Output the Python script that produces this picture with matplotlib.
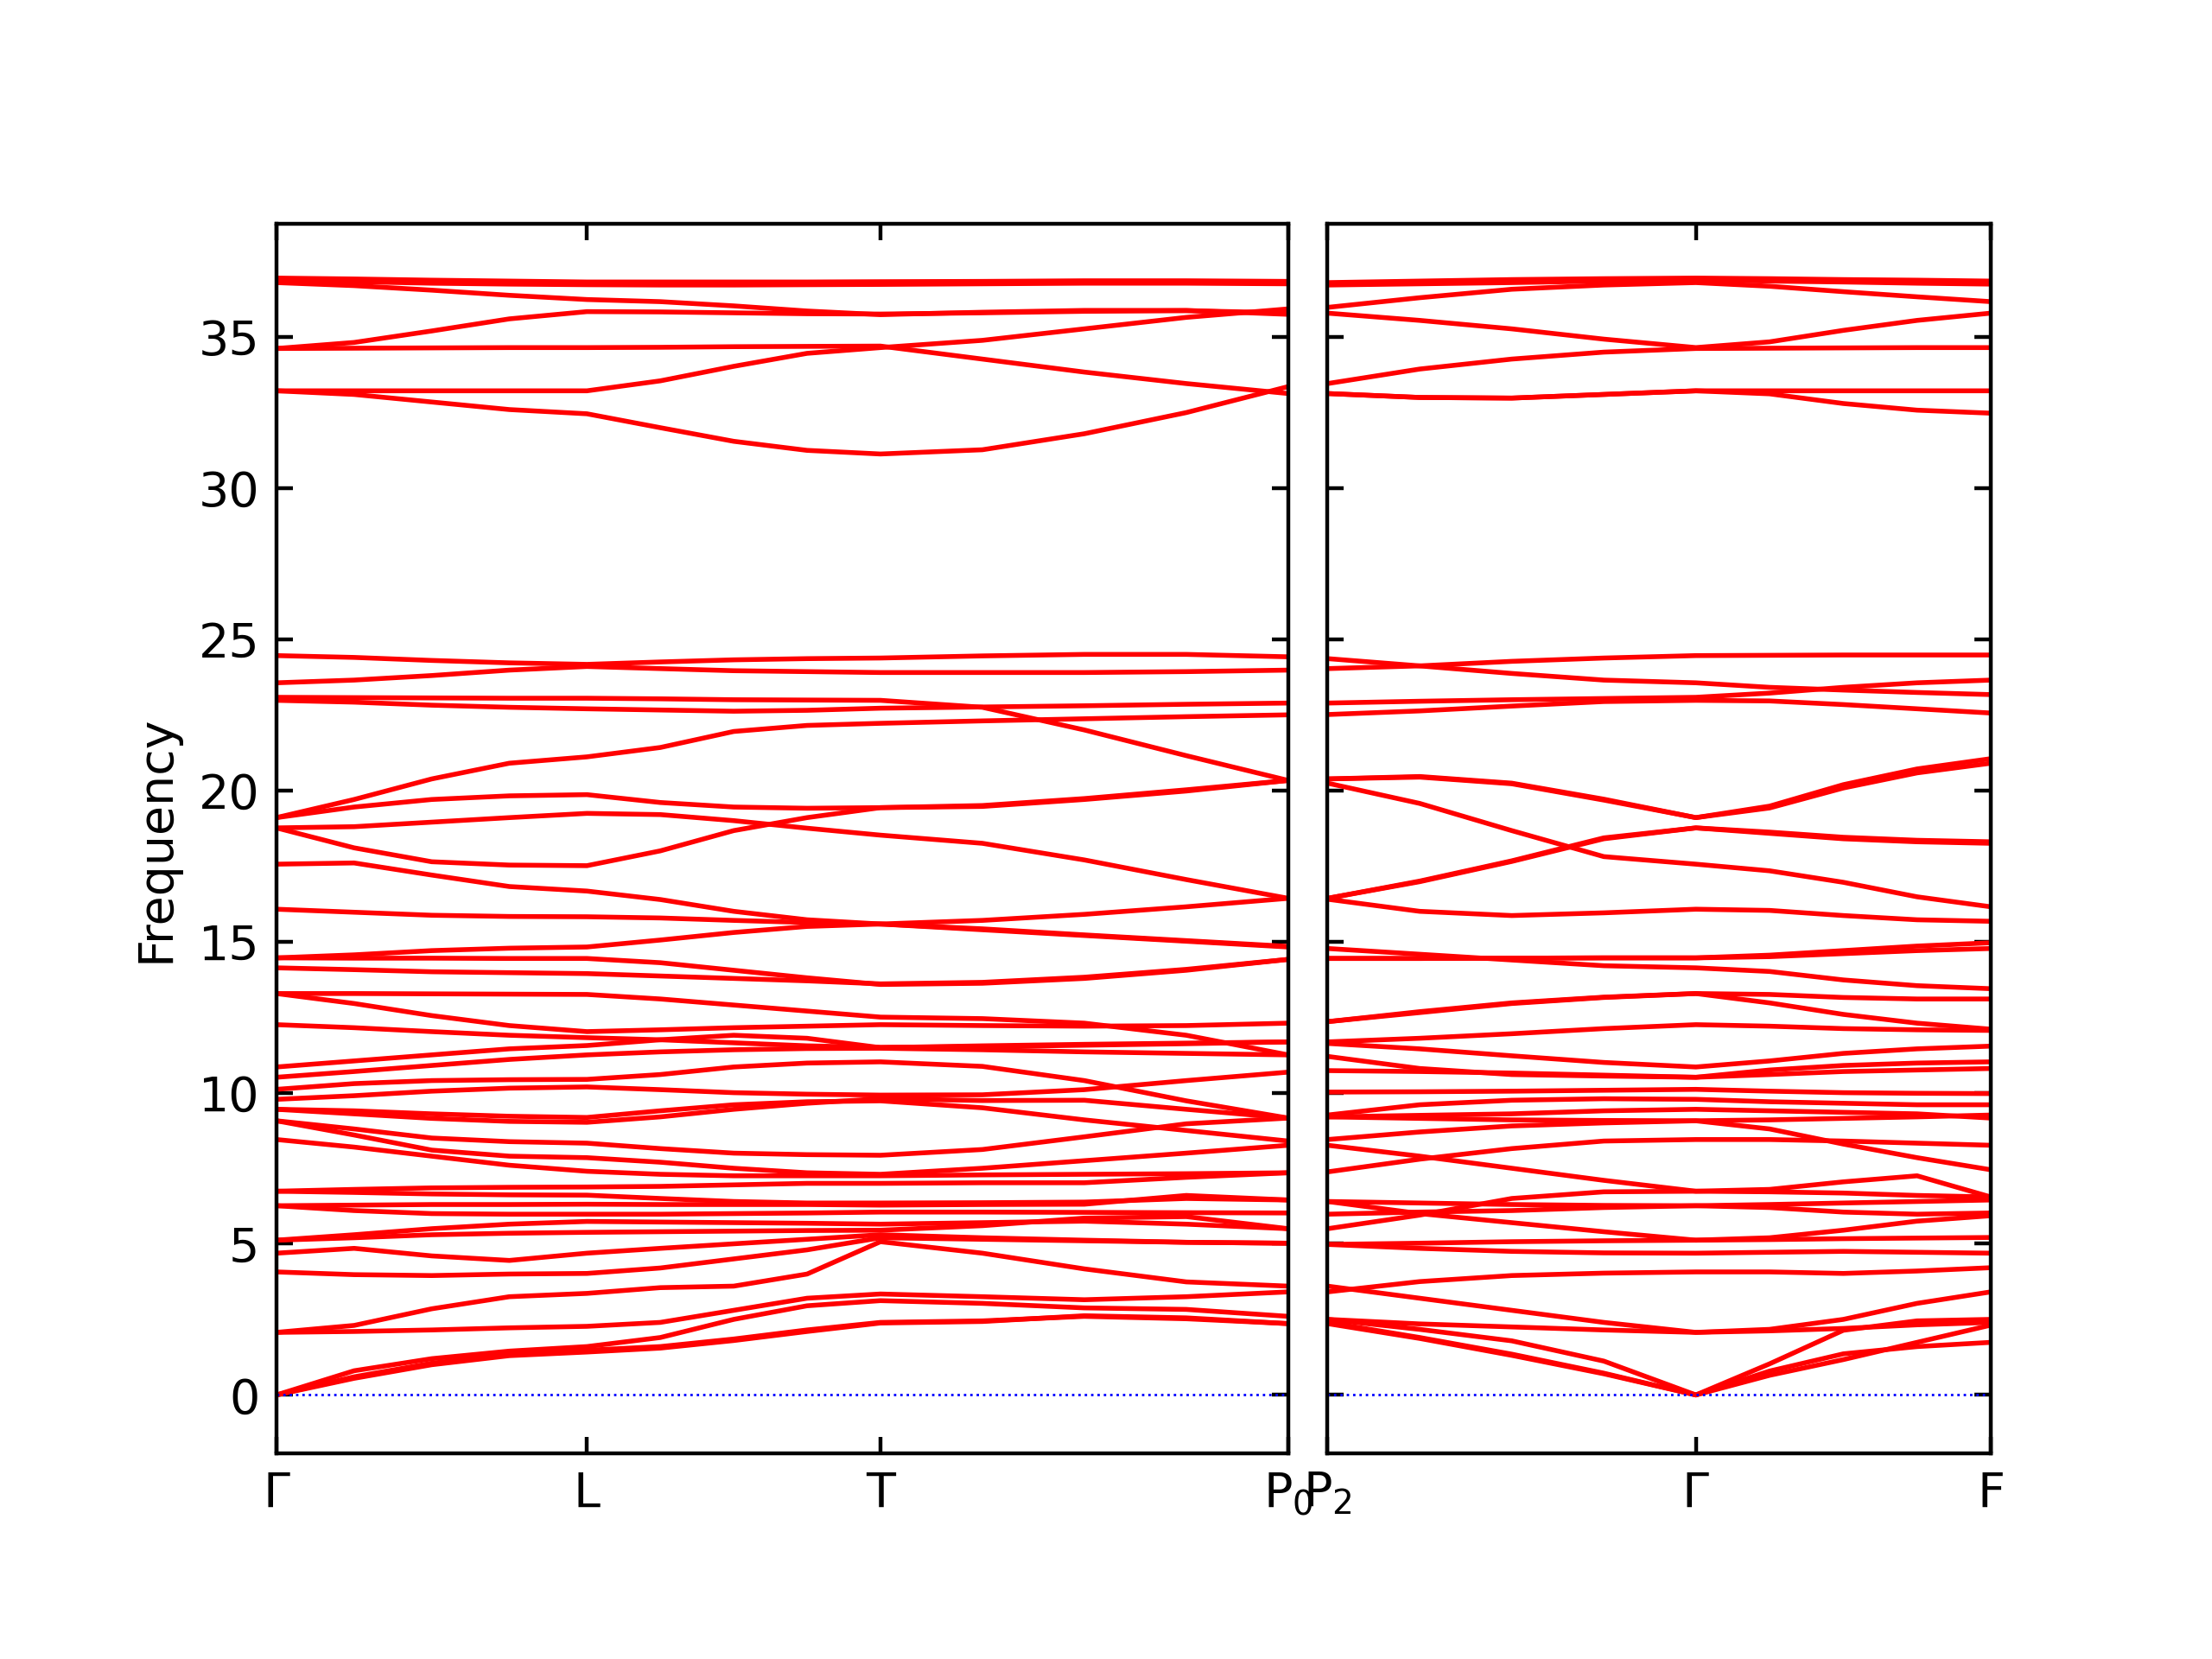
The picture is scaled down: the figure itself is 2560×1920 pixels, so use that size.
import numpy as np
import matplotlib
matplotlib.use('Agg')
import matplotlib.pyplot as plt

# band path: segment lengths (reciprocal space) and tick labels
left_labels = ['$\\Gamma$', 'L', 'T', '$\\mathrm{P_0}$']
left_seg = [0.220, 0.208, 0.289]
right_labels = ['$\\mathrm{P_2}$', '$\\Gamma$', 'F']
right_seg = [0.261, 0.209]

# every band is read at 0, 1/4, 1/2, 3/4 of each segment plus the last point
steps = [0.0, 0.25, 0.5, 0.75]

# ---- left panel: Gamma - L - T - P0 (13 values per band) ----
left_low = [
    [0, 0.55, 1.0, 1.3, 1.42, 1.55, 1.8, 2.1, 2.38, 2.43, 2.62, 2.55, 2.36],
    [0, 0.6, 1.05, 1.35, 1.48, 1.6, 1.85, 2.15, 2.4, 2.45, 2.6, 2.52, 2.36],
    [0, 0.8, 1.2, 1.45, 1.6, 1.9, 2.5, 2.95, 3.12, 3.03, 2.88, 2.83, 2.6],
    [2.07, 2.1, 2.15, 2.22, 2.27, 2.4, 2.8, 3.2, 3.34, 3.25, 3.15, 3.25, 3.41],
    [2.07, 2.3, 2.85, 3.25, 3.36, 3.55, 3.6, 4.0, 5.07, 4.69, 4.17, 3.74, 3.6],
    [4.07, 3.98, 3.95, 4.0, 4.02, 4.2, 4.5, 4.8, 5.2, 5.15, 5.1, 5.05, 5.02],
    [4.69, 4.85, 4.6, 4.45, 4.69, 4.85, 5.0, 5.15, 5.3, 5.2, 5.12, 5.05, 5.02],
    [5.12, 5.2, 5.3, 5.35, 5.38, 5.4, 5.42, 5.44, 5.45, 5.6, 5.85, 5.9, 5.5],
    [5.12, 5.3, 5.5, 5.65, 5.74, 5.72, 5.7, 5.68, 5.65, 5.7, 5.75, 5.65, 5.5],
    [6.26, 6.1, 6.0, 5.98, 5.98, 5.98, 6.0, 6.02, 6.05, 6.05, 6.04, 6.03, 6.02],
    [6.26, 6.28, 6.3, 6.3, 6.31, 6.3, 6.3, 6.3, 6.28, 6.3, 6.31, 6.6, 6.45],
    [6.74, 6.7, 6.65, 6.62, 6.61, 6.5, 6.4, 6.35, 6.35, 6.36, 6.38, 6.5, 6.45],
    [6.74, 6.8, 6.85, 6.87, 6.88, 6.9, 6.95, 7.0, 7.0, 7.02, 7.02, 7.2, 7.35],
    [8.45, 8.2, 7.9, 7.6, 7.4, 7.3, 7.25, 7.25, 7.25, 7.28, 7.3, 7.32, 7.35],
    [9.07, 8.6, 8.1, 7.9, 7.85, 7.7, 7.5, 7.35, 7.3, 7.5, 7.75, 8.0, 8.26],
    [9.07, 8.8, 8.5, 8.38, 8.33, 8.15, 8.0, 7.95, 7.93, 8.12, 8.54, 8.97, 9.16],
    [9.45, 9.3, 9.15, 9.05, 9.02, 9.2, 9.45, 9.65, 9.8, 9.74, 9.75, 9.45, 9.16],
    [9.45, 9.4, 9.3, 9.22, 9.18, 9.4, 9.6, 9.7, 9.73, 9.5, 9.1, 8.75, 8.4],
    [9.78, 9.9, 10.05, 10.15, 10.19, 10.1, 10.0, 9.95, 9.92, 9.93, 10.1, 10.4, 10.68],
    [10.11, 10.3, 10.4, 10.43, 10.44, 10.6, 10.85, 10.98, 11.02, 10.87, 10.4, 9.73, 9.16],
    [10.51, 10.7, 10.9, 11.1, 11.25, 11.35, 11.42, 11.46, 11.47, 11.42, 11.35, 11.3, 11.25],
    [10.85, 11.05, 11.25, 11.45, 11.56, 11.75, 11.9, 11.8, 11.49, 11.55, 11.6, 11.64, 11.68],
]
left_upper = [
    [19.1, 19.7, 20.38, 20.9, 21.11, 21.42, 21.95, 22.15, 22.22, 22.3, 22.37, 22.44, 22.5],
    [19.1, 19.45, 19.7, 19.82, 19.86, 19.6, 19.45, 19.41, 19.43, 19.47, 19.7, 19.98, 20.33],
    [18.76, 18.8, 18.95, 19.1, 19.24, 19.2, 19.0, 18.75, 18.52, 18.25, 17.7, 17.05, 16.43],
    [18.76, 18.1, 17.64, 17.53, 17.51, 18.0, 18.67, 19.1, 19.43, 19.5, 19.73, 20.02, 20.33],
    [17.56, 17.6, 17.2, 16.82, 16.67, 16.39, 16.0, 15.72, 15.58, 15.7, 15.9, 16.15, 16.43],
    [16.07, 15.97, 15.87, 15.83, 15.82, 15.78, 15.7, 15.63, 15.58, 15.39, 15.2, 15.01, 14.82],
    [14.46, 14.56, 14.7, 14.78, 14.82, 15.05, 15.3, 15.5, 15.58, 15.42, 15.22, 15.03, 14.84],
    [14.46, 14.45, 14.45, 14.44, 14.44, 14.3, 14.05, 13.8, 13.58, 13.62, 13.78, 14.05, 14.41],
    [14.13, 14.07, 14.0, 13.97, 13.94, 13.86, 13.78, 13.7, 13.6, 13.65, 13.82, 14.08, 14.41],
    [13.28, 13.28, 13.27, 13.26, 13.25, 13.1, 12.9, 12.7, 12.5, 12.45, 12.3, 11.9, 11.25],
    [13.28, 12.95, 12.55, 12.22, 12.02, 12.08, 12.15, 12.2, 12.25, 12.22, 12.2, 12.22, 12.3],
    [12.25, 12.15, 12.02, 11.9, 11.82, 11.75, 11.65, 11.55, 11.5, 11.52, 11.57, 11.62, 11.68],
]
left_mid = [
    [24.46, 24.4, 24.3, 24.22, 24.17, 24.25, 24.32, 24.36, 24.38, 24.45, 24.5, 24.5, 24.42],
    [23.56, 23.65, 23.8, 23.98, 24.1, 24.03, 23.96, 23.93, 23.9, 23.9, 23.9, 23.93, 23.98],
    [23.08, 23.07, 23.06, 23.05, 23.05, 23.03, 23.0, 22.99, 22.98, 22.75, 22.0, 21.15, 20.33],
    [22.98, 22.92, 22.82, 22.75, 22.7, 22.66, 22.62, 22.65, 22.72, 22.76, 22.8, 22.85, 22.89],
]
left_top = [
    [36.95, 36.92, 36.88, 36.85, 36.82, 36.82, 36.82, 36.82, 36.83, 36.84, 36.86, 36.86, 36.84],
    [36.88, 36.83, 36.78, 36.75, 36.73, 36.72, 36.72, 36.73, 36.74, 36.76, 36.78, 36.78, 36.76],
    [36.8, 36.7, 36.55, 36.38, 36.24, 36.17, 36.03, 35.86, 35.74, 35.82, 35.88, 35.88, 35.75],
    [34.62, 34.82, 35.2, 35.6, 35.84, 35.83, 35.8, 35.77, 35.76, 35.8, 35.85, 35.87, 35.8],
    [34.62, 34.63, 34.64, 34.65, 34.65, 34.66, 34.68, 34.69, 34.7, 34.27, 33.84, 33.46, 33.13],
    [33.22, 33.22, 33.22, 33.22, 33.22, 33.55, 34.03, 34.46, 34.65, 34.89, 35.27, 35.65, 35.93],
    [33.22, 33.1, 32.85, 32.6, 32.46, 32.0, 31.55, 31.25, 31.13, 31.27, 31.8, 32.5, 33.36],
]

# ---- right panel: P2 - Gamma - F (9 values per band) ----
right_low = [
    [2.36, 1.87, 1.31, 0.7, 0, 0.79, 1.36, 1.6, 1.74],
    [2.4, 1.9, 1.35, 0.72, 0, 0.65, 1.17, 1.74, 2.31],
    [2.5, 2.17, 1.79, 1.12, 0, 1.03, 2.14, 2.45, 2.5],
    [2.5, 2.35, 2.25, 2.15, 2.07, 2.12, 2.2, 2.32, 2.4],
    [3.6, 3.2, 2.8, 2.4, 2.07, 2.17, 2.5, 3.03, 3.41],
    [3.41, 3.75, 3.95, 4.03, 4.07, 4.07, 4.02, 4.1, 4.21],
    [4.98, 4.85, 4.75, 4.7, 4.69, 4.72, 4.75, 4.72, 4.69],
    [4.98, 5.02, 5.07, 5.1, 5.12, 5.14, 5.17, 5.19, 5.21],
    [6.4, 6.0, 5.7, 5.4, 5.12, 5.2, 5.45, 5.75, 5.93],
    [5.98, 6.05, 6.1, 6.2, 6.26, 6.2, 6.05, 5.98, 6.02],
    [6.4, 6.35, 6.3, 6.27, 6.26, 6.3, 6.35, 6.4, 6.45],
    [5.5, 5.95, 6.5, 6.72, 6.74, 6.8, 7.05, 7.25, 6.55],
    [8.26, 7.9, 7.5, 7.1, 6.74, 6.72, 6.68, 6.6, 6.55],
    [7.38, 7.8, 8.15, 8.4, 8.45, 8.45, 8.4, 8.33, 8.26],
    [8.45, 8.7, 8.9, 9.0, 9.07, 8.8, 8.3, 7.85, 7.45],
    [9.2, 9.15, 9.1, 9.08, 9.07, 9.1, 9.15, 9.2, 9.26],
    [9.2, 9.25, 9.3, 9.4, 9.45, 9.4, 9.35, 9.3, 9.16],
    [9.26, 9.6, 9.75, 9.8, 9.78, 9.7, 9.65, 9.6, 9.6],
    [10.02, 10.03, 10.05, 10.08, 10.11, 10.05, 10.0, 9.98, 9.97],
    [10.73, 10.7, 10.65, 10.58, 10.51, 10.75, 10.9, 10.98, 11.02],
    [11.2, 10.8, 10.6, 10.55, 10.51, 10.6, 10.7, 10.75, 10.8],
    [11.63, 11.45, 11.22, 11.0, 10.85, 11.05, 11.3, 11.45, 11.54],
]
right_upper = [
    [20.38, 20.46, 20.24, 19.71, 19.1, 19.48, 20.19, 20.71, 21.05],
    [20.38, 20.44, 20.22, 19.68, 19.1, 19.42, 20.08, 20.58, 20.9],
    [20.24, 19.57, 18.67, 17.81, 17.56, 17.34, 16.96, 16.48, 16.15],
    [16.43, 17.0, 17.67, 18.43, 18.76, 18.62, 18.45, 18.35, 18.3],
    [16.43, 16.98, 17.65, 18.4, 18.76, 18.58, 18.4, 18.3, 18.25],
    [16.4, 16.0, 15.86, 15.95, 16.07, 16.03, 15.86, 15.72, 15.67],
    [14.77, 14.58, 14.39, 14.2, 14.13, 14.01, 13.73, 13.54, 13.44],
    [14.44, 14.44, 14.45, 14.46, 14.46, 14.5, 14.6, 14.7, 14.77],
    [14.44, 14.44, 14.45, 14.46, 14.46, 14.55, 14.7, 14.85, 14.96],
    [12.35, 12.68, 12.97, 13.16, 13.28, 13.25, 13.15, 13.1, 13.1],
    [12.35, 12.65, 12.95, 13.15, 13.28, 12.97, 12.59, 12.3, 12.1],
    [11.68, 11.8, 11.95, 12.12, 12.25, 12.2, 12.12, 12.08, 12.06],
]
right_mid = [
    [24.03, 24.12, 24.27, 24.38, 24.46, 24.47, 24.48, 24.48, 24.48],
    [24.36, 24.12, 23.87, 23.65, 23.56, 23.41, 23.32, 23.24, 23.17],
    [22.89, 22.95, 23.0, 23.04, 23.08, 23.22, 23.41, 23.56, 23.65],
    [22.51, 22.63, 22.79, 22.94, 22.98, 22.96, 22.84, 22.7, 22.56],
]
right_top = [
    [36.8, 36.85, 36.9, 36.93, 36.95, 36.93, 36.9, 36.88, 36.85],
    [36.72, 36.76, 36.8, 36.85, 36.88, 36.85, 36.82, 36.78, 36.75],
    [35.98, 36.3, 36.58, 36.72, 36.8, 36.68, 36.5, 36.33, 36.17],
    [35.79, 35.55, 35.27, 34.93, 34.65, 34.84, 35.22, 35.55, 35.79],
    [33.46, 33.94, 34.27, 34.5, 34.62, 34.63, 34.64, 34.65, 34.65],
    [33.13, 33.0, 32.98, 33.1, 33.22, 33.22, 33.22, 33.22, 33.22],
    [33.13, 33.0, 32.98, 33.1, 33.22, 33.12, 32.8, 32.58, 32.48],
]


def qpath(seg):
    x = []
    start = 0.0
    for s in seg:
        x += [start + f * s for f in steps]
        start += s
    x.append(start)
    return np.array(x)


fig, axes = plt.subplots(1, 2, figsize=(6.4, 4.8), sharey=True,
                         gridspec_kw={'width_ratios': [sum(left_seg), sum(right_seg)],
                                      'wspace': 0.047})
fig.subplots_adjust(left=0.125, right=0.9, bottom=0.124, top=0.865)

panels = [
    (axes[0], left_seg, left_labels, left_low + left_upper + left_mid + left_top),
    (axes[1], right_seg, right_labels, right_low + right_upper + right_mid + right_top),
]
for ax, seg, labels, bands in panels:
    x = qpath(seg)
    for b in bands:
        ax.plot(x, b, 'r-', linewidth=1)
    ax.axhline(y=0, linestyle=':', linewidth=0.5, color='b')
    ticks = np.concatenate([[0.0], np.cumsum(seg)])
    ax.set_xticks(ticks)
    ax.set_xticklabels(labels)
    ax.set_xlim(0, ticks[-1])
    ax.tick_params(axis='both', which='both', direction='in',
                   top=True, right=True, left=True, bottom=True)

axes[0].set_ylabel('Frequency')
axes[0].set_ylim(-1.93, 38.74)

fig.savefig('out.png', dpi=400)
